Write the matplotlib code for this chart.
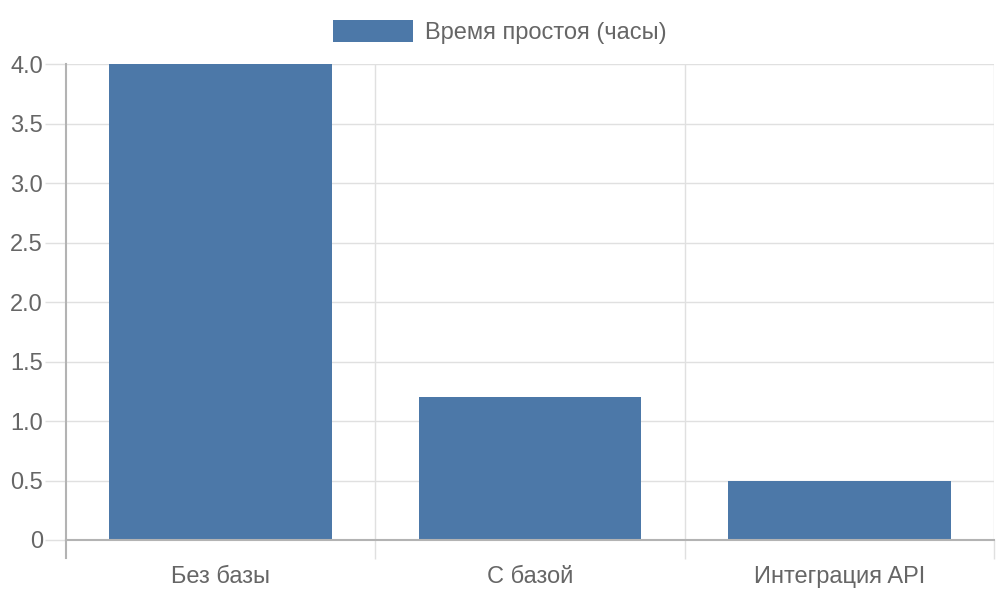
import matplotlib
matplotlib.use("Agg")
import matplotlib.pyplot as plt
from matplotlib.ticker import FixedLocator

plt.rcParams['font.family'] = ['Liberation Sans', 'DejaVu Sans']

categories = ["Без базы", "С базой", "Интеграция API"]
values = [4.0, 1.2, 0.5]
series_name = "Время простоя (часы)"
yticks = [0, 0.5, 1.0, 1.5, 2.0, 2.5, 3.0, 3.5, 4.0]
ytick_labels = ["0", "0.5", "1.0", "1.5", "2.0", "2.5", "3.0", "3.5", "4.0"]

bar_color = "#4c78a8"
text_color = "#666666"
grid_color = "#e0e0e0"
axis_color = "#b3b3b3"
FS = 17

fig = plt.figure(figsize=(10, 6), dpi=100)
ax = fig.add_axes([0.066, 0.1, 0.928, 0.7933])

x = list(range(len(categories)))
ax.bar(x, values, width=0.72, color=bar_color, label=series_name, zorder=3)

ax.set_xlim(-0.5, len(categories) - 0.5)
ax.set_ylim(0, 4.0)

ax.set_yticks(yticks)
ax.set_yticklabels(ytick_labels)
ax.set_xticks(x)
ax.set_xticklabels(categories)
ax.xaxis.set_minor_locator(FixedLocator([i + 0.5 for i in x]))

ax.tick_params(axis='x', which='major', length=0, pad=19, labelsize=FS, labelcolor=text_color)
ax.tick_params(axis='x', which='minor', length=13.5, width=1, color=grid_color)
ax.tick_params(axis='y', which='major', length=15, width=1, color=grid_color, pad=1.5,
               labelsize=FS, labelcolor=text_color)

ax.grid(axis='y', which='major', color=grid_color, linewidth=1, zorder=0)
ax.grid(axis='x', which='minor', color=grid_color, linewidth=1, zorder=0)
ax.grid(axis='x', which='major', visible=False)

for s in ['top', 'right']:
    ax.spines[s].set_visible(False)
ax.spines['left'].set_color(axis_color)
ax.spines['left'].set_linewidth(1.5)
ax.spines['bottom'].set_color(axis_color)
ax.spines['bottom'].set_linewidth(1.5)
ax.spines['bottom'].set_zorder(4)

# extend left axis below x axis like a tick
ax.plot([-0.5, -0.5], [0, -18 / 476 * 4.0], color=axis_color, lw=1.5, clip_on=False, zorder=4)

fs_px = FS * 100 / 72
leg = fig.legend(loc='center', bbox_to_anchor=(0.5, 1 - 32 / 600), frameon=False,
                 fontsize=FS, handlelength=80 / fs_px, handleheight=24 / fs_px,
                 handletextpad=12 / fs_px, borderaxespad=0, borderpad=0)
for t in leg.get_texts():
    t.set_color(text_color)

fig.savefig("out.png", dpi=100)
